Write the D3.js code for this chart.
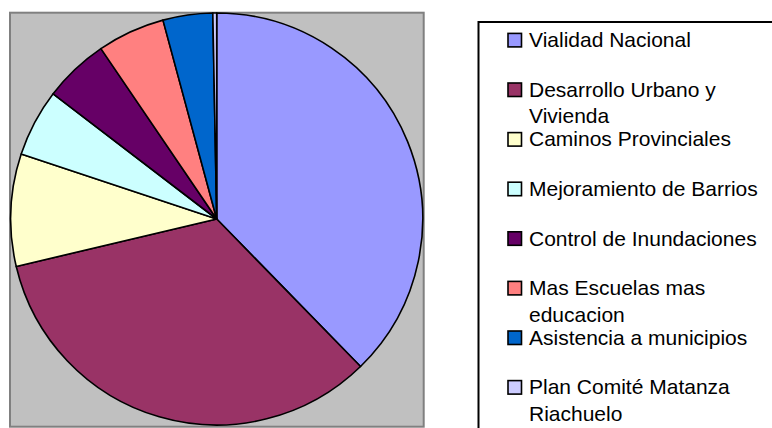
<!DOCTYPE html>
<html>
<head>
<meta charset="utf-8">
<script src="https://cdn.jsdelivr.net/npm/d3@7"></script>
<style>
  html, body { margin: 0; padding: 0; background: #fff; }
  svg { display: block; }
</style>
</head>
<body>
<svg id="chart" width="772" height="428"></svg>
<script>
const categories = [
  "Vialidad Nacional",
  "Desarrollo Urbano y Vivienda",
  "Caminos Provinciales",
  "Mejoramiento de Barrios",
  "Control de Inundaciones",
  "Mas Escuelas mas educacion",
  "Asistencia a municipios",
  "Plan Comité Matanza Riachuelo"
];
const values = [37.7, 33.6, 8.8, 5.3, 5.1, 5.3, 3.9, 0.3];
const colors = ["#9999FF", "#993366", "#FFFFCC", "#CCFFFF", "#660066", "#FF8080", "#0066CC", "#CCCCFF"];

const data = categories.map((c, i) => ({ name: c, value: values[i], color: colors[i] }));

const svg = d3.select("#chart");
const font = "'Liberation Sans', Arial, Helvetica, sans-serif";

// Plot area
svg.append("rect")
  .attr("x", 10).attr("y", 12.7)
  .attr("width", 413.7).attr("height", 414)
  .attr("fill", "#C0C0C0")
  .attr("stroke", "#808080")
  .attr("stroke-width", 2);

// Pie
const cx = 216.7, cy = 219, r = 206;
const pie = d3.pie().sort(null).value(d => d.value);
const arc = d3.arc().innerRadius(0).outerRadius(r);

svg.append("g")
  .attr("transform", `translate(${cx},${cy})`)
  .selectAll("path")
  .data(pie(data))
  .join("path")
  .attr("d", arc)
  .attr("fill", d => d.data.color)
  .attr("stroke", "#000")
  .attr("stroke-width", 1.6)
  .attr("stroke-linejoin", "round");

// Legend
svg.append("rect")
  .attr("x", 478.5).attr("y", 22)
  .attr("width", 400).attr("height", 500)
  .attr("fill", "#fff")
  .attr("stroke", "#000")
  .attr("stroke-width", 2);

const fontSize = 21;
const maxWidth = 236;
const lineGap = 26.5;
const step = 49.6;
const top0 = 32.9;

const measurer = svg.append("text")
  .attr("font-family", font).attr("font-size", fontSize)
  .attr("visibility", "hidden");
function textWidth(s) { measurer.text(s); return measurer.node().getComputedTextLength(); }
function wrap(s) {
  const words = s.split(" ");
  const lines = [];
  let cur = "";
  words.forEach(w => {
    const t = cur ? cur + " " + w : w;
    if (cur && textWidth(t) > maxWidth) { lines.push(cur); cur = w; }
    else cur = t;
  });
  if (cur) lines.push(cur);
  return lines;
}

const leg = svg.append("g");
const items = leg.selectAll("g.item").data(data).join("g")
  .attr("class", "item")
  .attr("transform", (d, i) => `translate(0,${top0 + i * step})`);

items.append("rect")
  .attr("x", 508).attr("y", 0.5)
  .attr("width", 13.5).attr("height", 13.5)
  .attr("fill", d => d.color)
  .attr("stroke", "#000")
  .attr("stroke-width", 1.6);

items.each(function(d) {
  const lines = wrap(d.name);
  const t = d3.select(this).append("text")
    .attr("font-family", font)
    .attr("font-size", fontSize)
    .attr("fill", "#000");
  lines.forEach((ln, k) => {
    t.append("tspan").attr("x", 529).attr("y", 14.3 + k * lineGap).text(ln);
  });
});
measurer.remove();
</script>
</body>
</html>
